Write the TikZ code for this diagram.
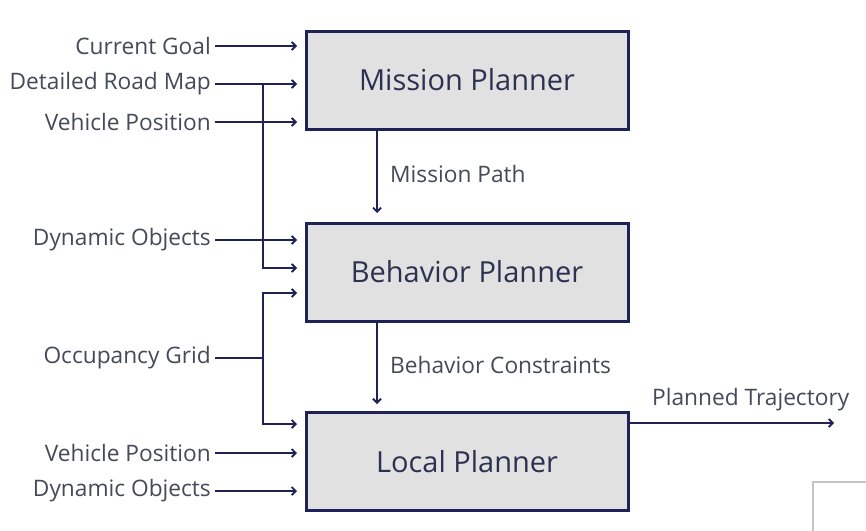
\documentclass[tikz,border=0pt]{standalone}
\usepackage{fontspec}
\setmainfont{Open Sans}
\usetikzlibrary{arrows.meta}
\definecolor{navy}{HTML}{1E2257}
\definecolor{boxfill}{HTML}{E1E1E1}
\definecolor{txt}{HTML}{454A58}
\definecolor{boxtxt}{HTML}{2B3150}
\definecolor{framegray}{HTML}{C4C4C4}
\tikzset{
  planner/.style={draw=navy, line width=3pt, fill=boxfill, minimum width=322pt, minimum height=98pt, inner sep=0pt, text=boxtxt, font=\fontsize{29}{32}\selectfont},
  inlabel/.style={anchor=east, inner sep=0pt, text=txt, font=\fontsize{22.7}{25}\selectfont},
  edgelabel/.style={anchor=west, inner sep=0pt, text=txt, font=\fontsize{22.7}{25}\selectfont},
  conn/.style={draw=navy, line width=2.5pt, -{Straight Barb[length=4pt,width=8pt,line width=1.8pt]}},
  bus/.style={draw=navy, line width=2.5pt}
}
\begin{document}
\begin{tikzpicture}[x=1pt,y=-1pt]
\useasboundingbox (0,0) rectangle (866,530);
\fill[white] (0,0) rectangle (866,530);

% planners
\node[planner] (mis) at (467,80) {Mission Planner};
\node[planner] (beh) at (467,272) {Behavior Planner};
\node[planner] (loc) at (467,461.5) {Local Planner};

% left labels
\node[inlabel] (cg) at (211,46) {Current Goal};
\node[inlabel] (drm) at (211,84) {Detailed Road Map};
\node[inlabel] (vp1) at (211,122) {Vehicle Position};
\node[inlabel] (do1) at (211,240) {Dynamic Objects};
\node[inlabel] (og) at (211,358) {Occupancy Grid};
\node[inlabel] (vp2) at (211,453) {Vehicle Position};
\node[inlabel] (do2) at (211,491) {Dynamic Objects};

% targets on box edges
\coordinate (tcg) at (297,46);
\coordinate (tdrm) at (297,84);
\coordinate (tvp1) at (297,122);
\coordinate (tdo1) at (297,240);
\coordinate (tbus) at (297,268);
\coordinate (tog1) at (297,293);
\coordinate (tog2) at (297,424);
\coordinate (tvp2) at (297,453);
\coordinate (tdo2) at (297,491);
\coordinate (j1) at (263,84);
\coordinate (j2) at (263,358);

% connectors
\draw[conn] ([xshift=4pt]cg.east) -- (tcg);
\draw[conn] ([xshift=4pt]drm.east) -- (tdrm);
\draw[conn] ([xshift=4pt]vp1.east) -- (tvp1);
\draw[conn] ([xshift=4pt]do1.east) -- (tdo1);
\draw[conn] (j1) |- (tbus);
\draw[bus] ([xshift=4pt]og.east) -- (j2);
\draw[conn] (j2) |- (tog1);
\draw[conn] (j2) |- (tog2);
\draw[conn] ([xshift=4pt]vp2.east) -- (tvp2);
\draw[conn] ([xshift=4pt]do2.east) -- (tdo2);

% vertical flow
\coordinate (mp1) at (377,130);
\coordinate (mp2) at (377,213);
\coordinate (bc1) at (377,322);
\coordinate (bc2) at (377,404);
\draw[conn] (mp1) -- (mp2);
\draw[conn] (bc1) -- (bc2);
\node[edgelabel] (mpl) at (390,174) {Mission Path};
\node[edgelabel] (bcl) at (390,365) {Behavior Constraints};

% output
\coordinate (pt0) at (629,423);
\coordinate (pt1) at (834,423);
\draw[conn] (pt0) -- (pt1);
\node[edgelabel] (ptl) at (652,400) {Planned Trajectory};

% corner frame
\draw[framegray, line width=1.8pt] (866,482) -- (813,482) -- (813,531);
\end{tikzpicture}
\end{document}
